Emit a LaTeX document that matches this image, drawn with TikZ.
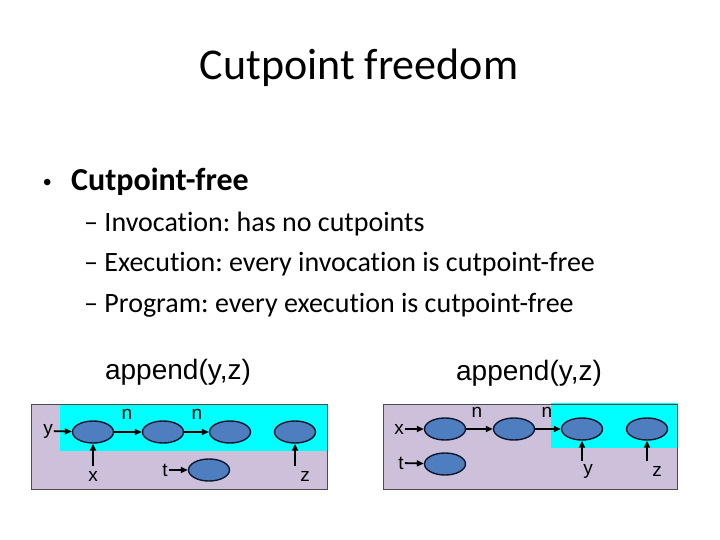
\documentclass[tikz,border=0pt]{standalone}
\usepackage{fontspec}
\setmainfont{Carlito}[Ligatures={NoCommon}]
\newfontfamily\arialf{Liberation Sans}
\usetikzlibrary{arrows.meta,shapes.geometric}
\definecolor{lav}{HTML}{CCC0DA}
\definecolor{cyn}{HTML}{00FFFF}
\definecolor{ell}{HTML}{4F7EC0}
\definecolor{ellb}{HTML}{101830}
\tikzset{
  cell/.style={ellipse, draw=ellb, line width=1.4pt, fill=ell, minimum width=41pt, minimum height=22pt, inner sep=0pt},
  lbl/.style={font=\arialf\fontsize{19}{19}\selectfont, inner sep=1pt},
  ptr/.style={-{Triangle[length=7pt,width=6pt]}, line width=1.8pt},
  ttl/.style={font=\fontsize{28}{30}\selectfont\arialf},
  sub/.style={anchor=base west, inner sep=0pt, font=\fontsize{28}{30}\selectfont},
}
\begin{document}
\frenchspacing
\begin{tikzpicture}[x=1pt,y=-1pt]
\useasboundingbox[fill=white] (0,0) rectangle (720,540);
\node (title) at (359,68) {\fontsize{44}{48}\selectfont Cutpoint freedom};
\node[anchor=base west, inner sep=0pt] (bul) at (43,191) {\arialf\fontsize{24}{24}\selectfont •};
\node[anchor=base west, inner sep=0pt] (b1) at (71,191) {\fontsize{32}{34}\selectfont\bfseries Cutpoint-free};
\node[sub] (s1) at (84,231) {– Invocation: has no cutpoints};
\node[sub] (s2) at (84,271) {– Execution: every invocation is cutpoint-free};
\node[sub] (s3) at (84,312) {– Program: every execution is cutpoint-free};
\node[ttl] (ap1) at (178,372) {append(y,z)};
\node[ttl] (ap2) at (529,373) {append(y,z)};
% diagram 1
\fill[lav] (31,404) rectangle (327,489);
\fill[cyn] (60,405) rectangle (327,451);
\draw[line width=0.6pt, black!70] (31,404) rectangle (327,489);
\node[cell] (a1) at (93,432) {};
\node[cell] (a2) at (163,432) {};
\node[cell] (a3) at (230,432) {};
\node[cell] (a4) at (295,432) {};
\node[cell] (a5) at (209,470) {};
\node[lbl] (ay) at (48,431) {y};
\node[lbl] (ax) at (93,476) {x};
\node[lbl] (at) at (165,470) {t};
\node[lbl] (az) at (305,476) {z};
\node[lbl] (an1) at (127,414) {n};
\node[lbl] (an2) at (197,414) {n};
\coordinate (axs) at (93,466);
\coordinate (azs) at (295,466);
\draw[ptr] (ay) -- (a1);
\draw[ptr] (axs) -- (a1);
\draw[ptr] (at) -- (a5);
\draw[ptr] (azs) -- (a4);
\draw[ptr] (a1) -- (a2);
\draw[ptr] (a2) -- (a3);
% diagram 2
\fill[lav] (383,404) rectangle (677,489);
\fill[cyn] (551,403) rectangle (677,448);
\draw[line width=0.6pt, black!70] (383,404) rectangle (677,489);
\node[cell] (b1e) at (445,429) {};
\node[cell] (b2e) at (514,429) {};
\node[cell] (b3e) at (582,429) {};
\node[cell] (b4e) at (647,429) {};
\node[cell] (b5e) at (445,464) {};
\node[lbl] (bx) at (399,429) {x};
\node[lbl] (bt) at (401,463) {t};
\node[lbl] (by) at (588,471) {y};
\node[lbl] (bz) at (657,471) {z};
\node[lbl] (bn1) at (477,412) {n};
\node[lbl] (bn2) at (547,412) {n};
\coordinate (bys) at (582,461);
\coordinate (bzs) at (647,461);
\draw[ptr] (bx) -- (b1e);
\draw[ptr] (bt) -- (b5e);
\draw[ptr] (bys) -- (b3e);
\draw[ptr] (bzs) -- (b4e);
\draw[ptr] (b1e) -- (b2e);
\draw[ptr] (b2e) -- (b3e);
\end{tikzpicture}
\end{document}
